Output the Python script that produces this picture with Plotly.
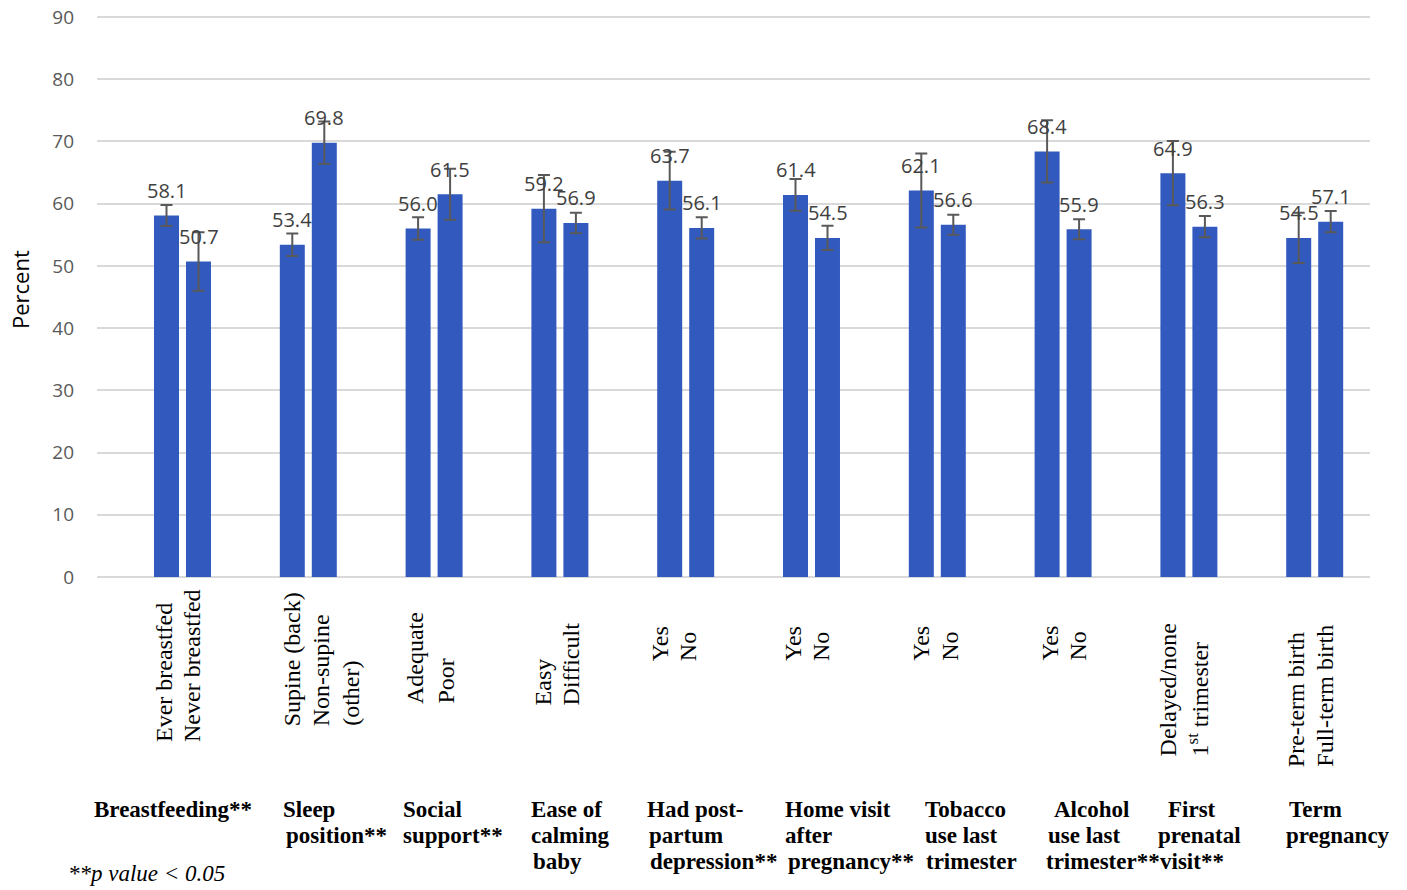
import plotly.graph_objects as go

# ---------------- data ----------------
group_lines = [
    ["Breastfeeding**"],
    ["Sleep", "position**"],
    ["Social", "support**"],
    ["Ease of", "calming", "baby"],
    ["Had post-", "partum", "depression**"],
    ["Home visit", "after", "pregnancy**"],
    ["Tobacco", "use last", "trimester"],
    ["Alcohol", "use last", "trimester**"],
    ["First", "prenatal", "visit**"],
    ["Term", "pregnancy"],
]
sub_a_lines = [
    ["Ever breastfed"], ["Supine (back)"], ["Adequate"], ["Easy"], ["Yes"],
    ["Yes"], ["Yes"], ["Yes"], ["Delayed/none"], ["Pre-term birth"],
]
sub_b_lines = [
    ["Never breastfed"], ["Non-supine", "(other)"], ["Poor"], ["Difficult"], ["No"],
    ["No"], ["No"], ["No"], ["1<sup>st</sup> trimester"], ["Full-term birth"],
]
values_a = [58.1, 53.4, 56.0, 59.2, 63.7, 61.4, 62.1, 68.4, 64.9, 54.5]
values_b = [50.7, 69.8, 61.5, 56.9, 56.1, 54.5, 56.6, 55.9, 56.3, 57.1]
err_a = [1.7, 1.8, 1.8, 5.4, 4.65, 2.55, 5.95, 5.0, 5.15, 4.05]
err_b = [4.7, 3.4, 4.1, 1.65, 1.7, 1.95, 1.6, 1.6, 1.7, 1.7]
y_ticks = [0, 10, 20, 30, 40, 50, 60, 70, 80, 90]
footnote = "**p value < 0.05"
y_title = "Percent"

# ---------------- layout constants (pixels) ----------------
W, H = 1407, 890
PL, PR, PT, PB = 97, 1370, 14, 577
Y_TOP = 90.48  # a little headroom so the 90 gridline is drawn
BAR_COLOR = "#325ABE"
ERR_COLOR = "#595959"


def px_x(px):
    return (px - PL) / (PR - PL)


def px_y(py):
    return (PB - py) / (PB - PT)


x_idx = list(range(len(values_a)))

fig = go.Figure()
for vals, errs in ((values_a, err_a), (values_b, err_b)):
    fig.add_trace(go.Bar(
        x=x_idx, y=vals,
        marker=dict(color=BAR_COLOR, line=dict(width=0)),
        error_y=dict(type="data", array=errs, visible=True,
                     color=ERR_COLOR, thickness=2, width=6),
        hoverinfo="y", showlegend=False,
    ))

ann = []
# data labels
for vals, shift in ((values_a, -16), (values_b, 16)):
    for i, v in enumerate(vals):
        ann.append(dict(x=i, y=v, xref="x", yref="y", text=f"{v:.1f}",
                        showarrow=False, xshift=shift, yshift=25,
                        xanchor="center", yanchor="middle",
                        font=dict(family="Open Sans", size=20, color="#404040")))

# rotated sub-category labels
cat_offsets = [[-19, 9], [-16, 13, 42], [-19, 11], [-17, 11], [-26, 2],
               [-19, 9], [-17, 12], [-14, 14], [-21, 9], [-19, 10]]
cat_bottoms = [743, 727, 705, 706, 662, 662, 662, 662, 757, 768]
for i in x_idx:
    lines = sub_a_lines[i] + sub_b_lines[i]
    for txt, off in zip(lines, cat_offsets[i]):
        ann.append(dict(x=i, y=px_y(cat_bottoms[i] + 1), xref="x", yref="paper",
                        text=txt, showarrow=False, textangle=-90,
                        xshift=off, xanchor="center", yanchor="bottom",
                        font=dict(family="Liberation Serif", size=24, color="black")))

# group labels (bold)
group_left = [[93], [282, 285], [402, 402], [530, 530, 532], [646, 648, 649],
              [784, 784, 787], [924, 924, 925], [1053, 1047, 1045],
              [1167, 1157, 1159], [1288, 1285]]
row_centers = [809, 835, 861]
for i in x_idx:
    for r, (txt, lx) in enumerate(zip(group_lines[i], group_left[i])):
        ann.append(dict(x=px_x(lx - 1), y=px_y(row_centers[r]), xref="paper", yref="paper",
                        text=f"<b>{txt}</b>", showarrow=False,
                        xanchor="left", yanchor="middle",
                        font=dict(family="Liberation Serif", size=23, color="black")))

# footnote
ann.append(dict(x=px_x(66), y=px_y(873), xref="paper", yref="paper",
                text=f"<i>{footnote}</i>", showarrow=False,
                xanchor="left", yanchor="middle",
                font=dict(family="Liberation Serif", size=23, color="black")))
# y title
ann.append(dict(x=px_x(20), y=px_y(290), xref="paper", yref="paper",
                text=y_title, showarrow=False, textangle=-90,
                xanchor="center", yanchor="middle",
                font=dict(family="Open Sans", size=22, color="black")))

# x range from group geometry: group 0 centre at px 182.5, spacing 125.8 px
g0, gs = 182.5, 125.8
fig.update_layout(
    width=W, height=H,
    margin=dict(l=PL, r=W - PR, t=PT, b=H - PB, pad=0, autoexpand=False),
    paper_bgcolor="white", plot_bgcolor="white",
    barmode="group", bargap=0.4913, bargroupgap=0.219,
    annotations=ann,
    xaxis=dict(range=[(PL - g0) / gs, (PR - g0) / gs], showticklabels=False,
               showgrid=False, zeroline=False, showline=False, ticks="",
               automargin=False),
    yaxis=dict(range=[0, Y_TOP], tickvals=y_ticks, showgrid=True,
               gridcolor="#D9D9D9", gridwidth=1.5, zeroline=True,
               zerolinecolor="#D9D9D9", zerolinewidth=1.5, showline=False,
               ticks="", ticklabelstandoff=22, automargin=False,
               tickfont=dict(family="Open Sans", size=19, color="#595959")),
)

fig.write_html(
    "out.html",
    config={"displayModeBar": False},
    post_script="document.body.style.margin='0';document.body.style.overflow='hidden';",
)
